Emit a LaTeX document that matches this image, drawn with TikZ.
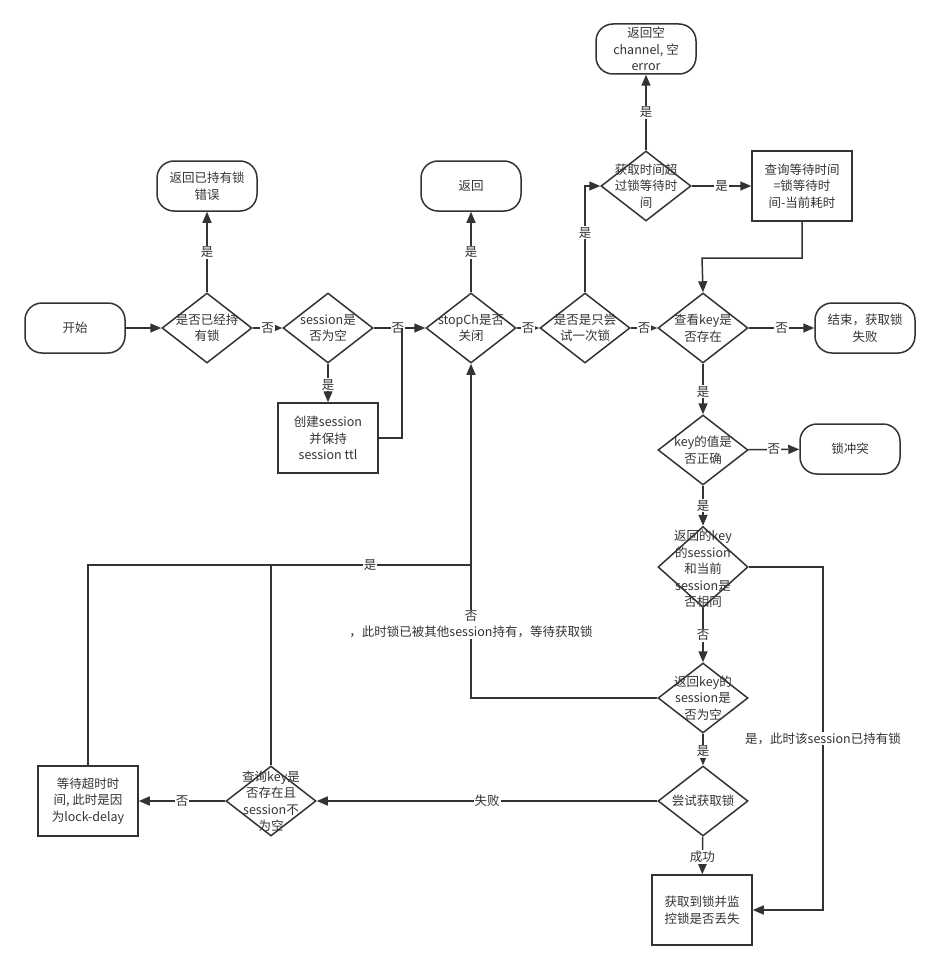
\documentclass[tikz,border=0pt]{standalone}
\usepackage{fontspec}
\setmainfont{Noto Sans CJK SC}
\usetikzlibrary{shapes.geometric,arrows.meta}
\definecolor{lc}{HTML}{333333}
\definecolor{tc}{HTML}{333333}
\tikzset{
  ln/.style={draw=lc, line width=1.5pt},
  arr/.style={ln, -{Triangle[length=11pt,width=9pt]}},
  tfont/.style={font=\fontsize{12.5}{16.5}\selectfont, text=tc},
  term/.style={draw=lc, line width=1.5pt, rounded corners=17pt, minimum width=100pt, minimum height=50pt, align=center, inner sep=0pt, tfont},
  proc/.style={draw=lc, line width=1.5pt, minimum width=100pt, minimum height=70pt, align=center, inner sep=0pt, tfont},
  dia/.style={diamond, draw=lc, line width=1.5pt, minimum width=90pt, minimum height=70pt, inner sep=0pt},
  dtxt/.style={align=center, tfont, inner sep=0pt},
  lbl/.style={fill=white, inner sep=1pt, tfont, align=center}
}
\begin{document}
\begin{tikzpicture}[x=1pt,y=-1pt]
\useasboundingbox (0,0) rectangle (940,971);
% terminals
\node[term] (start) at (75,328) {开始};
\node[term] (r1) at (207,186) {返回已持有锁\\错误};
\node[term] (r2) at (471,186) {返回};
\node[term] (r3) at (646,49) {返回空\\channel, 空\\error};
\node[term] (r4) at (865,328) {结束，获取锁\\失败};
\node[term] (r5) at (850,449) {锁冲突};
% processes
\node[proc] (b1) at (328,438) {创建session\\并保持\\session ttl};
\node[proc] (b2) at (802,186) {查询等待时间\\=锁等待时\\间-当前耗时};
\node[proc] (b3) at (702,910) {获取到锁并监\\控锁是否丢失};
\node[proc] (b4) at (88,801) {等待超时时\\间, 此时是因\\为lock-delay};
% diamonds
\node[dia] (d1) at (207,328) {};
\node[dtxt] at (d1) {是否已经持\\有锁};
\node[dia] (d2) at (328,328) {};
\node[dtxt] at (d2) {session是\\否为空};
\node[dia] (d3) at (471,328) {};
\node[dtxt] at (d3) {stopCh是否\\关闭};
\node[dia] (d4) at (585,328) {};
\node[dtxt] at (d4) {是否是只尝\\试一次锁};
\node[dia] (d5) at (646,186) {};
\node[dtxt] at (d5) {获取时间超\\过锁等待时\\间};
\node[dia] (d6) at (703,328) {};
\node[dtxt] at (d6) {查看key是\\否存在};
\node[dia] (d7) at (703,450) {};
\node[dtxt] at (d7) {key的值是\\否正确};
\node[dia, minimum height=81pt] (d8) at (703,567) {};
\node[dtxt] at (703,569) {返回的key\\的session\\和当前\\session是\\否相同};
\node[dia] (d9) at (703,698) {};
\node[dtxt] at (d9) {返回key的\\session是\\否为空};
\node[dia] (d10) at (703,801) {};
\node[dtxt] at (d10) {尝试获取锁};
\node[dia] (d11) at (271,801) {};
\node[dtxt] at (d11) {查询key是\\否存在且\\session不\\为空};
% coordinates
\coordinate (j1) at (402,328);
\coordinate (j2) at (702,258);
\coordinate (j3) at (823,567);
\coordinate (j4) at (470,565);
% connectors
\draw[arr] (start) -- (d1);
\draw[arr] (d1) -- node[lbl, pos=0.5] {是} (r1);
\draw[arr] (d1) -- node[lbl] {否} (d2);
\draw[arr] (d2) -- node[lbl, pos=0.47] {否} (d3);
\draw[arr] (d2) -- node[lbl, pos=0.55] {是} (b1);
\draw[ln] (b1.east) -| (j1);
\draw[arr] (d3) -- node[lbl] {是} (r2);
\draw[arr] (d3) -- node[lbl] {否} (d4);
\draw[arr] (d4.north) |- node[lbl, pos=0.28] {是} (d5.west);
\draw[arr] (d5) -- node[lbl] {是} (r3);
\draw[arr] (d5) -- node[lbl, pos=0.5] {是} (b2);
\draw[arr] (b2.south) |- (j2) -- (d6.north);
\draw[arr] (d4) -- node[lbl, pos=0.5] {否} (d6);
\draw[arr] (d6) -- node[lbl] {否} (r4);
\draw[arr] (d6) -- node[lbl, pos=0.55] {是} (d7);
\draw[arr] (d7) -- node[lbl, pos=0.5] {否} (r5);
\draw[arr] (d7) -- node[lbl, pos=0.5] {是} (d8);
\draw[arr] (d8) -- node[lbl, pos=0.5] {否} (d9);
\draw[arr] (d8.east) -- (j3) |- node[lbl, pos=0.25] {是，此时该session已持有锁} (b3.east);
\draw[arr] (d9.west) -| node[lbl, pos=0.61] {否\\，此时锁已被其他session持有，等待获取锁} (d3.south);
\draw[arr] (d9) -- node[lbl, pos=0.55] {是} (d10);
\draw[arr] (d10) -- node[lbl, pos=0.55] {成功} (b3);
\draw[arr] (d10) -- node[lbl] {失败} (d11);
\draw[arr] (d11) -- node[lbl] {否} (b4);
\draw[ln] (b4.north) |- (j4);
\draw[ln] (d11.north) -- (d11.north |- j4);
\node[lbl] at (370,565) {是};
\end{tikzpicture}
\end{document}
